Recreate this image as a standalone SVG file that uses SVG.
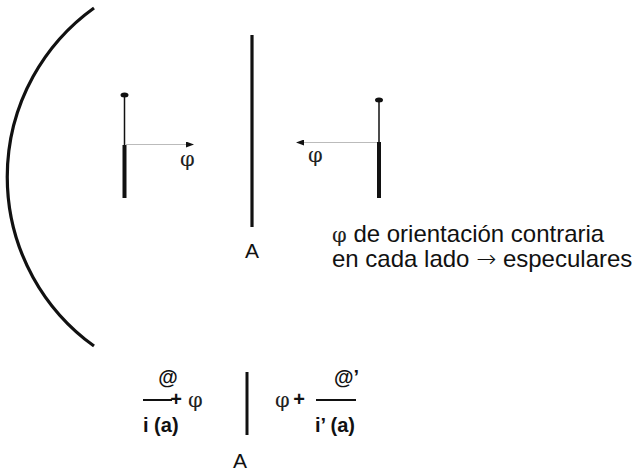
<svg xmlns="http://www.w3.org/2000/svg" width="644" height="472" viewBox="0 0 644 472">
<style>
.t{font-family:"Liberation Sans",Arial,sans-serif;fill:#111}
.b{font-weight:bold;font-size:20px}
.phi{font-family:"DejaVu Serif","Liberation Serif",serif;font-size:21px;fill:#222}
.thin{stroke:#111;stroke-width:1.5}
.thick{stroke:#111;stroke-width:4}
.arr{stroke:#bbb;stroke-width:1.2;fill:none}
</style>
<defs>
<marker id="ah" markerWidth="8" markerHeight="6" refX="7" refY="3" orient="auto" markerUnits="userSpaceOnUse">
<path d="M0,0 L8,3 L0,6 Z" fill="#111"/>
</marker>
</defs>
<rect width="644" height="472" fill="#fff"/>
<path d="M94,8 A208,208 0 0 0 94,346" fill="none" stroke="#111" stroke-width="3.2"/>
<g id="mirror-top">
<line x1="252" y1="35" x2="252" y2="227" stroke="#111" stroke-width="3.2"/>
<text class="t" x="252" y="258" font-size="21" text-anchor="middle">A</text>
</g>
<g id="pin-left">
<ellipse cx="124.5" cy="95" rx="4" ry="2.5" fill="#111"/>
<line class="thin" x1="124.5" y1="95" x2="124.5" y2="146"/>
<line class="thick" x1="124.5" y1="145" x2="124.5" y2="198"/>
</g>
<g id="pin-right">
<ellipse cx="379" cy="100" rx="4" ry="2.5" fill="#111"/>
<line class="thin" x1="379" y1="100" x2="379" y2="143"/>
<line class="thick" x1="379" y1="142" x2="379" y2="198"/>
</g>
<g id="connectors">
<line class="arr" x1="126" y1="144.5" x2="193" y2="144.5" marker-end="url(#ah)"/>
<line class="arr" x1="377" y1="142.5" x2="297" y2="142.5" marker-end="url(#ah)"/>
</g>
<text class="phi" x="180" y="166">φ</text>
<text class="phi" x="308" y="162">φ</text>
<g id="note">
<text class="t" x="332" y="242" font-size="24"><tspan class="phi" font-size="22">φ</tspan> de orientación contraria</text>
<text class="t" x="332" y="267" font-size="24">en cada lado <tspan font-family="DejaVu Sans" font-size="24" font-weight="200">→</tspan> especulares</text>
</g>
<g id="mirror-bottom">
<line x1="247" y1="372" x2="247" y2="435" stroke="#111" stroke-width="3"/>
<text class="t" x="240" y="468" font-size="21" text-anchor="middle">A</text>
</g>
<g id="formula-left">
<text class="t b" x="168" y="384" text-anchor="middle">@</text>
<line x1="143" y1="400" x2="172" y2="400" stroke="#111" stroke-width="2"/>
<text class="t b" x="176" y="406" text-anchor="middle">+</text>
<text class="phi" x="188" y="407">φ</text>
<text class="t b" x="143" y="432">i (a)</text>
</g>
<g id="formula-right">
<text class="phi" x="275" y="407">φ</text>
<text class="t b" x="299" y="406" text-anchor="middle">+</text>
<line x1="316" y1="400" x2="356" y2="400" stroke="#111" stroke-width="2"/>
<text class="t b" x="334" y="384">@’</text>
<text class="t b" x="315" y="432">i’ (a)</text>
</g>
</svg>
